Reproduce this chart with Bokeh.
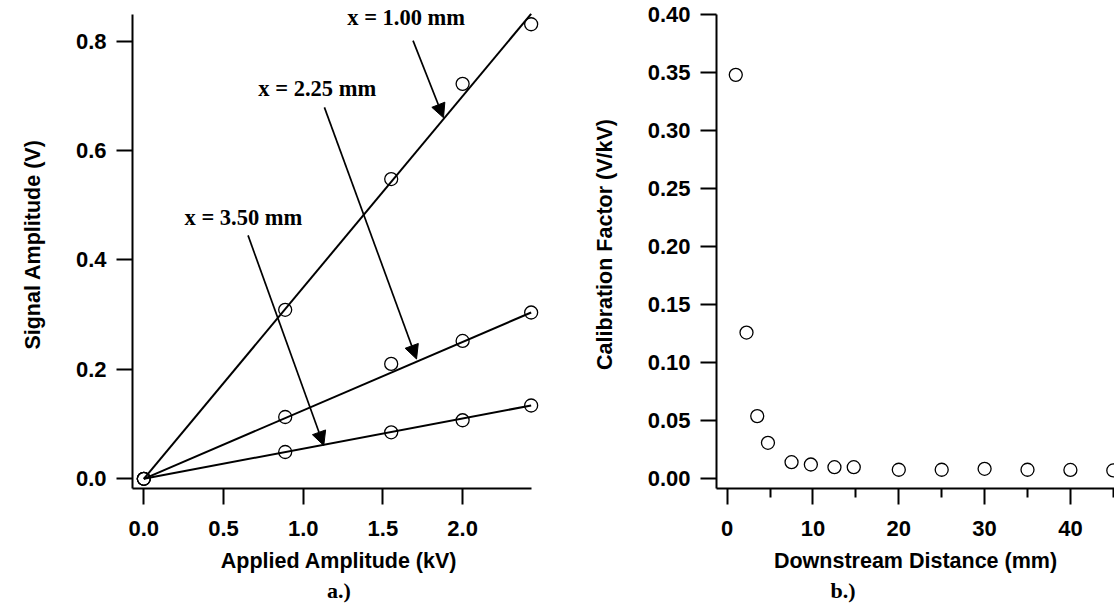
from bokeh.plotting import figure
from bokeh.layouts import row
from bokeh.models import (Arrow, NormalHead, FixedTicker, PrintfTickFormatter,
                          Title, Range1d)
from bokeh.core.properties import value
from bokeh.embed import file_html
from bokeh.resources import INLINE

# ---------------- data: panel a ----------------
applied_kv = [0.0, 0.887, 1.552, 2.0, 2.43]
signal_100 = [0.0, 0.309, 0.548, 0.722, 0.831]
signal_225 = [0.0, 0.113, 0.210, 0.252, 0.304]
signal_350 = [0.0, 0.049, 0.085, 0.107, 0.134]
fit_kv = [0.0, 2.43]
fit_100 = [0.0, 0.850]
fit_225 = [0.0, 0.304]
fit_350 = [0.0, 0.134]
ann_text = ["x = 1.00 mm", "x = 2.25 mm", "x = 3.50 mm"]

# ---------------- data: panel b ----------------
distance_mm = [1.0, 2.25, 3.5, 4.75, 7.5, 9.75, 12.5, 14.75, 20, 25, 30, 35, 40, 45]
cal_factor = [0.348, 0.126, 0.054, 0.031, 0.0143, 0.0123, 0.0100, 0.0100,
              0.0078, 0.0078, 0.0086, 0.0078, 0.0076, 0.0072]

left_yticks = [0.0, 0.2, 0.4, 0.6, 0.8]
left_xticks = [0.0, 0.5, 1.0, 1.5, 2.0]
right_yticks = [0.0, 0.05, 0.10, 0.15, 0.20, 0.25, 0.30, 0.35, 0.40]
right_xticks = [0, 10, 20, 30, 40]
right_xminor = [5, 15, 25, 35, 45]

# annotation placement (data coords)
ann_x = [1.646, 1.088, 0.625]
ann_y = [0.844, 0.7135, 0.478]
arr_x0 = [1.689, 1.133, 0.654]
arr_y0 = [0.801, 0.679, 0.445]
arr_x1 = [1.880, 1.711, 1.129]
arr_y1 = [0.660, 0.219, 0.0609]

SANS = "Liberation Sans"
SERIF = "Liberation Serif"
TICK_FS = "22px"
LAB_FS = "21.5px"


def style_axis(ax, tick_out=16):
    ax.axis_line_width = 2
    ax.axis_line_color = "black"
    ax.major_tick_line_width = 2
    ax.minor_tick_line_width = 2
    ax.major_tick_out = tick_out
    ax.major_tick_in = 0
    ax.minor_tick_in = 0
    ax.major_label_text_font = SANS
    ax.major_label_text_font_style = "bold"
    ax.major_label_text_font_size = TICK_FS
    ax.major_label_text_color = "black"
    ax.axis_label_text_font = SANS
    ax.axis_label_text_font_style = "bold"
    ax.axis_label_text_font_size = LAB_FS
    ax.axis_label_text_color = "black"


def base_fig(width, x_range, y_range, mbl, mbr):
    p = figure(width=width, height=603, x_range=x_range, y_range=y_range,
               output_backend="svg", toolbar_location=None,
               min_border_left=mbl, min_border_right=mbr,
               min_border_top=0, min_border_bottom=115)
    p.outline_line_color = None
    p.grid.visible = False
    p.background_fill_color = "white"
    p.border_fill_color = "white"
    return p


def panel_tag(p, text, align, offset):
    p.add_layout(Title(text=text, align=align, offset=offset, text_font=SERIF,
                       text_font_style="bold", text_font_size="22px",
                       text_color="black", standoff=0), "below")


# ---------------- panel a ----------------
p1 = base_fig(560, Range1d(-0.0709, 2.520), Range1d(-0.01773, 0.8744), 132, 15)
for fy in (fit_100, fit_225, fit_350):
    p1.line(fit_kv, fy, line_color="black", line_width=2)
for sy in (signal_100, signal_225, signal_350):
    p1.scatter(applied_kv, sy, marker="circle", size=13, fill_color=None,
               line_color="black", line_width=1.3)
p1.text(x=ann_x, y=ann_y, text=ann_text, text_font=value(SERIF),
        text_font_style="bold", text_font_size="22.5px", text_align="center",
        text_baseline="middle", text_color="black")
for x0, y0, x1, y1 in zip(arr_x0, arr_y0, arr_x1, arr_y1):
    p1.add_layout(Arrow(end=NormalHead(size=14, fill_color="black", line_color="black",
                                       line_width=1),
                        x_start=x0, y_start=y0, x_end=x1, y_end=y1,
                        line_width=1.7, line_color="black"))

xa = p1.xaxis[0]
ya = p1.yaxis[0]
style_axis(xa)
style_axis(ya)
xa.ticker = FixedTicker(ticks=left_xticks, minor_ticks=[])
ya.ticker = FixedTicker(ticks=left_yticks, minor_ticks=[])
xa.formatter = PrintfTickFormatter(format="%.1f")
ya.formatter = PrintfTickFormatter(format="%.1f")
xa.bounds = (-0.0709, 2.433)
ya.bounds = (-0.01773, 0.849)
xa.axis_label = "Applied Amplitude (kV)"
ya.axis_label = "Signal Amplitude (V)"
xa.major_label_standoff = 16
xa.axis_label_standoff = 10
ya.major_label_standoff = 10
ya.axis_label_standoff = 28
panel_tag(p1, "a.)", "center", 0)

# ---------------- panel b ----------------
p2 = base_fig(554, Range1d(-1.247, 45.14), Range1d(-0.00836, 0.41205), 156, 0)
p2.scatter(distance_mm, cal_factor, marker="circle", size=13, fill_color=None,
           line_color="black", line_width=1.3)
xb = p2.xaxis[0]
yb = p2.yaxis[0]
style_axis(xb)
style_axis(yb)
xb.minor_tick_out = 9
xb.ticker = FixedTicker(ticks=right_xticks, minor_ticks=right_xminor)
yb.ticker = FixedTicker(ticks=right_yticks, minor_ticks=[])
xb.formatter = PrintfTickFormatter(format="%d")
yb.formatter = PrintfTickFormatter(format="%.2f")
yb.bounds = (-0.00836, 0.40)
xb.axis_label = "Downstream Distance (mm)"
yb.axis_label = "Calibration Factor (V/kV)"
xb.major_label_standoff = 16
xb.axis_label_standoff = 10
yb.major_label_standoff = 10
yb.axis_label_standoff = 28
panel_tag(p2, "b.)", "left", 114)

layout = row(p1, p2, spacing=0)
open("out.html", "w").write(file_html(layout, INLINE))
